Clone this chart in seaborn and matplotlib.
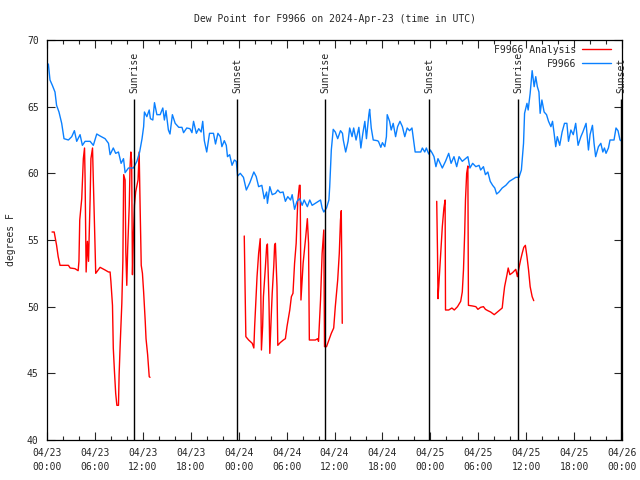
import matplotlib
matplotlib.use("Agg")
import matplotlib.pyplot as plt
import pandas as pd
import seaborn as sns
from matplotlib.lines import Line2D
from matplotlib.ticker import MultipleLocator

# hours since 2024-04-23 00:00 UTC
obs_hours = [
    0.17, 0.375, 0.67, 1.0, 1.2, 1.5, 1.84, 2.13, 2.68, 3.1, 3.43, 3.72, 4.14, 4.43, 4.77,
    5.4, 5.8, 6.23, 6.65, 7.27, 7.7, 7.9, 8.3, 8.6, 8.95, 9.28, 9.58, 9.78, 10.2, 10.83,
    11.25, 11.6, 11.9, 12.1, 12.2, 12.5, 12.8, 12.95, 13.25, 13.46, 13.76, 14.17, 14.5, 14.7,
    14.9, 15.2, 15.4, 15.7, 16.05, 16.5, 16.9, 17.1, 17.5, 17.9, 18.15, 18.35, 18.7, 19.0,
    19.3, 19.5, 19.7, 20.0, 20.35, 20.85, 21.1, 21.4, 21.7, 21.9, 22.2, 22.45, 22.6, 22.87,
    23.17, 23.46, 23.7, 23.87, 24.2, 24.6, 24.96, 25.4, 25.9, 26.2, 26.5, 26.9, 27.2, 27.5,
    27.6, 27.9, 28.2, 28.6, 28.9, 29.2, 29.56, 29.85, 30.15, 30.5, 30.7, 31.0, 31.3, 31.65,
    31.95, 32.2, 32.6, 32.9, 33.2, 33.6, 34.0, 34.25, 34.45, 34.66, 35.0, 35.3, 35.4, 35.6,
    35.84, 36.1, 36.4, 36.75, 37.0, 37.1, 37.4, 37.7, 37.9, 38.2, 38.4, 38.7, 39.05, 39.3,
    39.55, 39.8, 40.0, 40.3, 40.4, 40.6, 40.85, 41.35, 41.5, 41.8, 42.0, 42.3, 42.5, 42.6,
    42.9, 43.1, 43.35, 43.65, 43.9, 44.2, 44.5, 44.8, 45.1, 45.4, 45.7, 45.9, 46.1, 46.8,
    47.0, 47.3, 47.5, 47.8, 48.0, 48.25, 48.46, 48.7, 48.96, 49.5, 49.9, 50.3, 50.6, 50.96,
    51.3, 51.6, 52.0, 52.4, 52.7, 52.96, 53.3, 53.7, 54.1, 54.3, 54.65, 54.9, 55.2, 55.5,
    55.8, 56.07, 56.3, 56.6, 57.0, 57.45, 57.9, 58.3, 58.7, 59.1, 59.4, 59.67, 59.8, 60.1,
    60.25, 60.5, 60.75, 61.0, 61.2, 61.4, 61.6, 61.75, 61.97, 62.25, 62.55, 62.8, 63.1,
    63.3, 63.5, 63.7, 63.9, 64.2, 64.5, 64.8, 65.1, 65.3, 65.6, 65.9, 66.2, 66.5, 66.85,
    67.1, 67.5, 67.8, 68.0, 68.3, 68.5, 68.7, 69.05, 69.35, 69.6, 69.8, 70.0, 70.3, 70.5,
    71.0, 71.25, 71.5, 71.75, 72.0,
]
obs_dewpt = [
    68.2, 67.0, 66.6, 66.1, 65.1, 64.6, 63.75, 62.6, 62.5, 62.75, 63.2, 62.4, 62.9, 62.1, 62.4,
    62.4, 62.1, 62.95, 62.8, 62.6, 62.25, 61.4, 61.9, 61.5, 61.6, 60.75, 61.1, 60.05, 60.4, 60.4,
    60.9, 61.6, 62.6, 63.5, 64.6, 64.25, 64.75, 64.1, 64.0, 65.3, 64.4, 64.4, 64.9, 64.0,
    64.7, 63.25, 62.95, 64.4, 63.75, 63.45, 63.45, 63.05, 63.4, 63.35, 63.05, 63.9, 63.0, 63.35,
    63.1, 63.9, 62.45, 61.6, 63.0, 63.0, 62.2, 63.0, 62.75, 62.0, 62.45, 62.1, 61.25, 61.4,
    60.6, 61.0, 60.9, 59.8, 60.0, 59.7, 58.75, 59.3, 60.1, 59.75, 59.0, 59.1, 58.1, 58.6,
    57.75, 59.0, 58.4, 58.5, 58.75, 58.55, 58.6, 57.9, 58.25, 58.0, 58.4, 57.3, 57.9, 58.1,
    57.6, 58.0, 57.5, 58.0, 57.6, 57.75, 57.9, 58.0, 57.4, 57.1, 57.4, 58.0, 59.0, 61.75,
    63.3, 63.1, 62.6, 63.2, 63.0, 62.5, 61.6, 62.4, 63.4, 62.75, 63.4, 62.5, 63.45, 61.9,
    63.0, 63.9, 62.6, 64.4, 64.8, 63.4, 62.5, 62.45, 62.4, 61.95, 62.3, 62.0, 62.75, 64.4,
    63.9, 63.25, 63.75, 62.75, 63.5, 63.9, 63.5, 62.75, 63.4, 63.2, 63.4, 62.5, 61.6, 61.6,
    61.9, 61.6, 61.9, 61.45, 61.75, 61.5, 61.25, 60.5, 61.1, 60.4, 60.9, 61.5, 60.75, 61.25,
    60.5, 61.25, 60.9, 61.1, 61.25, 60.4, 60.75, 60.5, 60.6, 60.25, 60.5, 59.9, 60.1, 59.4,
    59.1, 58.9, 58.45, 58.6, 58.9, 59.1, 59.4, 59.55, 59.7, 59.7, 60.25, 62.25, 64.5, 65.25,
    64.75, 66.0, 67.7, 66.5, 67.25, 66.5, 66.1, 64.5, 65.5, 64.6, 64.4, 63.9, 63.5,
    63.9, 63.0, 62.0, 62.75, 62.1, 63.1, 63.75, 63.75, 62.4, 63.25, 62.9, 63.75, 62.1, 62.75,
    63.1, 63.75, 61.75, 62.9, 63.6, 62.25, 61.25, 62.0, 62.25, 61.6, 61.9, 61.5, 61.9, 62.5,
    62.5, 63.4, 63.2, 62.5, 62.4,
]

# analysis runs (three separate pieces)
ana1_hours = [
    0.63, 0.9, 1.2, 1.4, 1.63, 2.68, 2.9, 3.5, 3.9, 4.0, 4.1, 4.35, 4.55, 4.7, 4.77, 4.9,
    5.06, 5.2, 5.4, 5.5, 5.7, 5.8, 6.0, 6.1, 6.65, 7.27, 7.7, 7.9, 8.0, 8.2, 8.3, 8.45, 8.6,
    8.75, 8.95, 9.03, 9.16, 9.37, 9.5, 9.6, 9.78, 9.87, 9.99, 10.1, 10.3, 10.4, 10.5, 10.6,
    10.7, 10.8, 10.95, 11.1, 11.4, 11.54, 11.66, 11.8, 11.95, 12.1, 12.3, 12.4, 12.6, 12.8, 12.9,
]
ana1_dewpt = [
    55.6, 55.6, 54.6, 53.75, 53.1, 53.1, 52.9, 52.85, 52.7, 53.4, 56.5, 58.1, 61.1, 61.9, 59.6, 52.6,
    54.9, 53.4, 58.1, 61.1, 61.9, 59.5, 54.9, 52.5, 52.95, 52.75, 52.6, 52.6, 51.9, 50.1, 46.9, 45.1, 43.5,
    42.6, 42.6, 44.9, 47.1, 50.25, 53.4, 59.9, 59.5, 54.1, 51.6, 54.3, 57.6, 60.5, 61.6, 60.9,
    52.4, 54.9, 57.6, 58.6, 59.5, 61.6, 57.5, 53.1, 52.5, 51.1, 48.9, 47.6, 46.4, 44.75, 44.7,
]
ana2_hours = [
    24.7, 24.8, 24.9, 25.25, 25.7, 25.9, 26.0, 26.1, 26.3, 26.5, 26.7, 26.85, 27.0, 27.1, 27.35,
    27.5, 27.6, 27.8, 27.9, 28.06, 28.2, 28.4, 28.5, 28.6, 28.8, 28.9, 29.2, 29.6, 29.85, 30.05,
    30.4, 30.6, 30.8, 31.0, 31.2, 31.4, 31.6, 31.7, 31.8, 32.07, 32.4, 32.6, 32.75, 32.85, 33.2,
    33.6, 33.9, 34.0, 34.25, 34.45, 34.66, 34.75, 35.0, 35.3, 35.6, 35.9, 36.1, 36.4, 36.6,
    36.75, 36.85, 36.97,
]
ana2_dewpt = [
    55.3, 51.5, 47.75, 47.5, 47.25, 46.9, 48.5, 49.75, 52.25, 54.0, 55.1, 46.75, 48.5, 50.75, 53.0,
    54.5, 54.7, 50.25, 46.5, 49.0, 51.0, 53.1, 54.6, 54.75, 51.5, 47.1, 47.3, 47.5, 47.6, 48.5,
    49.75, 50.75, 51.0, 53.25, 54.75, 57.9, 59.1, 59.1, 50.5, 53.25, 55.25, 56.6, 54.75, 47.5, 47.5,
    47.5, 47.6, 47.4, 50.5, 54.0, 55.75, 47.0, 47.0, 47.5, 48.0, 48.4, 50.0, 52.0, 54.0,
    56.5, 57.2, 48.75,
]
ana3_hours = [
    48.8, 48.9, 48.96, 49.1, 49.3, 49.5, 49.7, 49.85, 49.9, 50.3, 50.7, 51.0, 51.4, 51.8, 52.0,
    52.15, 52.3, 52.4, 52.55, 52.7, 52.77, 53.3, 53.7, 53.96, 54.3, 54.65, 54.9, 55.2, 55.55,
    56.0, 56.4, 56.8, 57.0, 57.15, 57.3, 57.6, 57.75, 57.96, 58.3, 58.7, 58.9, 59.1, 59.3,
    59.5, 59.7, 59.9, 60.1, 60.3, 60.5, 60.75, 60.95,
]
ana3_dewpt = [
    57.9, 54.0, 50.6, 52.0, 54.0, 56.0, 57.4, 58.0, 49.75, 49.75, 49.9, 49.75, 50.0, 50.4, 51.1,
    52.75, 55.5, 58.0, 60.0, 60.55, 50.1, 50.05, 50.0, 49.8, 49.95, 50.0, 49.8, 49.7, 49.6,
    49.4, 49.6, 49.8, 49.9, 50.75, 51.5, 52.4, 52.9, 52.4, 52.55, 52.8, 52.25, 52.9, 53.5,
    54.0, 54.45, 54.6, 53.75, 52.75, 51.5, 50.75, 50.45,
]

sun_hours = [10.85, 23.77, 34.78, 47.8, 58.96, 71.88]
sun_labels = ["Sunrise", "Sunset", "Sunrise", "Sunset", "Sunrise", "Sunset"]

tick_hours = list(range(0, 73, 6))
tick_labels = [
    "04/23\n00:00", "04/23\n06:00", "04/23\n12:00", "04/23\n18:00",
    "04/24\n00:00", "04/24\n06:00", "04/24\n12:00", "04/24\n18:00",
    "04/25\n00:00", "04/25\n06:00", "04/25\n12:00", "04/25\n18:00",
    "04/26\n00:00",
]

RED = "#ff0000"
BLUE = "#0a80ff"

obs = pd.DataFrame({"hours": obs_hours, "dewpt": obs_dewpt})
ana = pd.concat(
    [
        pd.DataFrame({"hours": h, "dewpt": v, "seg": i})
        for i, (h, v) in enumerate(
            [(ana1_hours, ana1_dewpt), (ana2_hours, ana2_dewpt), (ana3_hours, ana3_dewpt)]
        )
    ],
    ignore_index=True,
)

sns.set_theme(style="ticks")
plt.rcParams["font.family"] = ["DejaVu Sans Mono"]
plt.rcParams["font.size"] = 7

fig = plt.figure(figsize=(6.4, 4.8), dpi=100)
ax = fig.add_axes([47 / 640, 40 / 480, 575 / 640, 400 / 480])

sns.lineplot(
    data=ana, x="hours", y="dewpt", units="seg", estimator=None,
    color=RED, linewidth=1.0, ax=ax, legend=False,
)
sns.lineplot(data=obs, x="hours", y="dewpt", color=BLUE, linewidth=1.0, ax=ax, legend=False)

# sunrise / sunset markers
ax.vlines(sun_hours, 40, 65.55, color="black", linewidth=1.0)
for h, lbl in zip(sun_hours, sun_labels):
    ax.text(h + 0.1, 66.05, lbl, rotation=90, ha="center", va="bottom", fontsize=7)

ax.set_xlim(0, 72)
ax.set_ylim(40, 70)
ax.set_xticks(tick_hours, tick_labels)
ax.xaxis.set_minor_locator(MultipleLocator(2))
ax.set_yticks(range(40, 71, 5))
ax.tick_params(which="both", direction="in", top=True, right=True, labelsize=7, width=0.8)
ax.tick_params(which="major", length=6)
ax.tick_params(which="minor", length=3)
ax.tick_params(axis="x", pad=6)
ax.tick_params(axis="y", pad=6)
for lbl in ax.get_xticklabels():
    lbl.set_linespacing(1.45)
for spine in ax.spines.values():
    spine.set_color("black")
    spine.set_linewidth(0.9)

ax.set_xlabel("")
ax.set_ylabel("degrees F", fontsize=7, labelpad=8)
ax.set_title("Dew Point for F9966 on 2024-Apr-23 (time in UTC)", fontsize=7, pad=13)

handles = [Line2D([], [], color=RED, lw=1.0), Line2D([], [], color=BLUE, lw=1.0)]
ax.legend(
    handles, ["F9966 Analysis", "F9966"], loc="upper right",
    bbox_to_anchor=(1 - 6 / 575, 1), frameon=False,
    markerfirst=False, fontsize=7, handlelength=3.0, handletextpad=0.6,
    labelspacing=0.4, borderaxespad=0.2, borderpad=0.3,
)

fig.savefig("out.png", dpi=100)
